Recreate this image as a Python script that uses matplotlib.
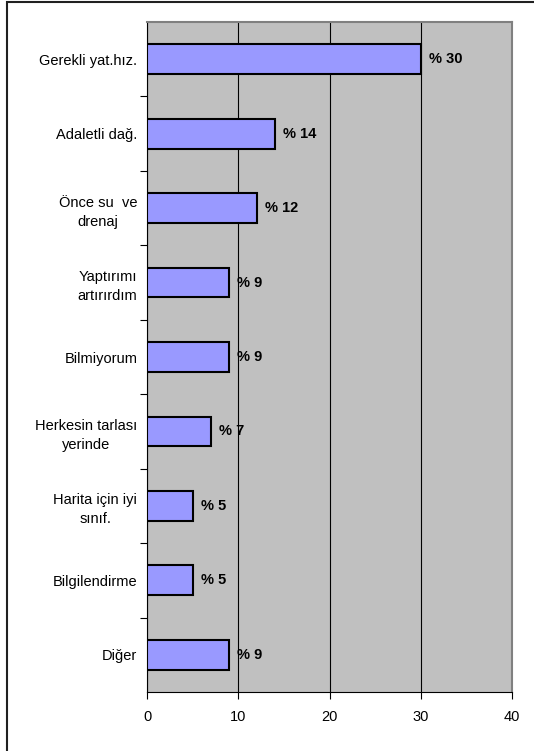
import matplotlib.pyplot as plt
from matplotlib.patches import Rectangle

# Veriler
kategoriler = [
    "Gerekli yat.hız.",
    "Adaletli dağ.",
    "Önce su  ve\ndrenaj",
    "Yaptırımı\nartırırdım",
    "Bilmiyorum",
    "Herkesin tarlası\nyerinde",
    "Harita için iyi\nsınıf.",
    "Bilgilendirme",
    "Diğer",
]
yuzdeler = [30, 14, 12, 9, 9, 7, 5, 5, 9]
x_ticks = [0, 10, 20, 30, 40]

plt.rcParams["font.family"] = ["Liberation Sans", "DejaVu Sans"]

fig = plt.figure(figsize=(5.34, 7.51), dpi=100)
ax = fig.add_axes([147 / 534, 1 - 692 / 751, (512 - 147) / 534, (692 - 22) / 751])

# Dış çerçeve
fig.patches.append(
    Rectangle((7 / 534, -0.01), 1.0, 1 - 1.5 / 751 + 0.01, transform=fig.transFigure,
              fill=False, edgecolor="#202020", linewidth=1.5)
)

ax.set_facecolor("#c0c0c0")
pos = list(range(len(kategoriler)))
ax.barh(pos, yuzdeler, height=0.4, color="#9999ff", edgecolor="black", linewidth=1.5, zorder=3)

for y, v in zip(pos, yuzdeler):
    ax.text(v + 0.9, y, f"% {v}", va="center", ha="left", fontsize=10.5, fontweight="bold", zorder=4)

ax.set_xlim(0, 40)
ax.set_ylim(len(kategoriler) - 0.5, -0.5)
ax.set_xticks(x_ticks)
ax.set_xticklabels([str(t) for t in x_ticks], fontsize=10.5)
ax.xaxis.grid(True, color="black", linewidth=0.8, zorder=1)
ax.set_axisbelow(True)

ax.set_yticks(pos)
ax.set_yticklabels(kategoriler, fontsize=10.5, multialignment="center", linespacing=1.45)
ax.tick_params(axis="y", length=0, pad=7)
ax.set_yticks([p + 0.5 for p in pos[:-1]], minor=True)
ax.tick_params(axis="y", which="minor", length=5, direction="out", width=0.8)
ax.tick_params(axis="x", length=5, direction="out", width=0.8, pad=8)

for s in ["top", "right"]:
    ax.spines[s].set_color("#808080")
    ax.spines[s].set_linewidth(1.5)
for s in ["left", "bottom"]:
    ax.spines[s].set_color("black")
    ax.spines[s].set_linewidth(0.8)

fig.savefig("out.png", dpi=100)
